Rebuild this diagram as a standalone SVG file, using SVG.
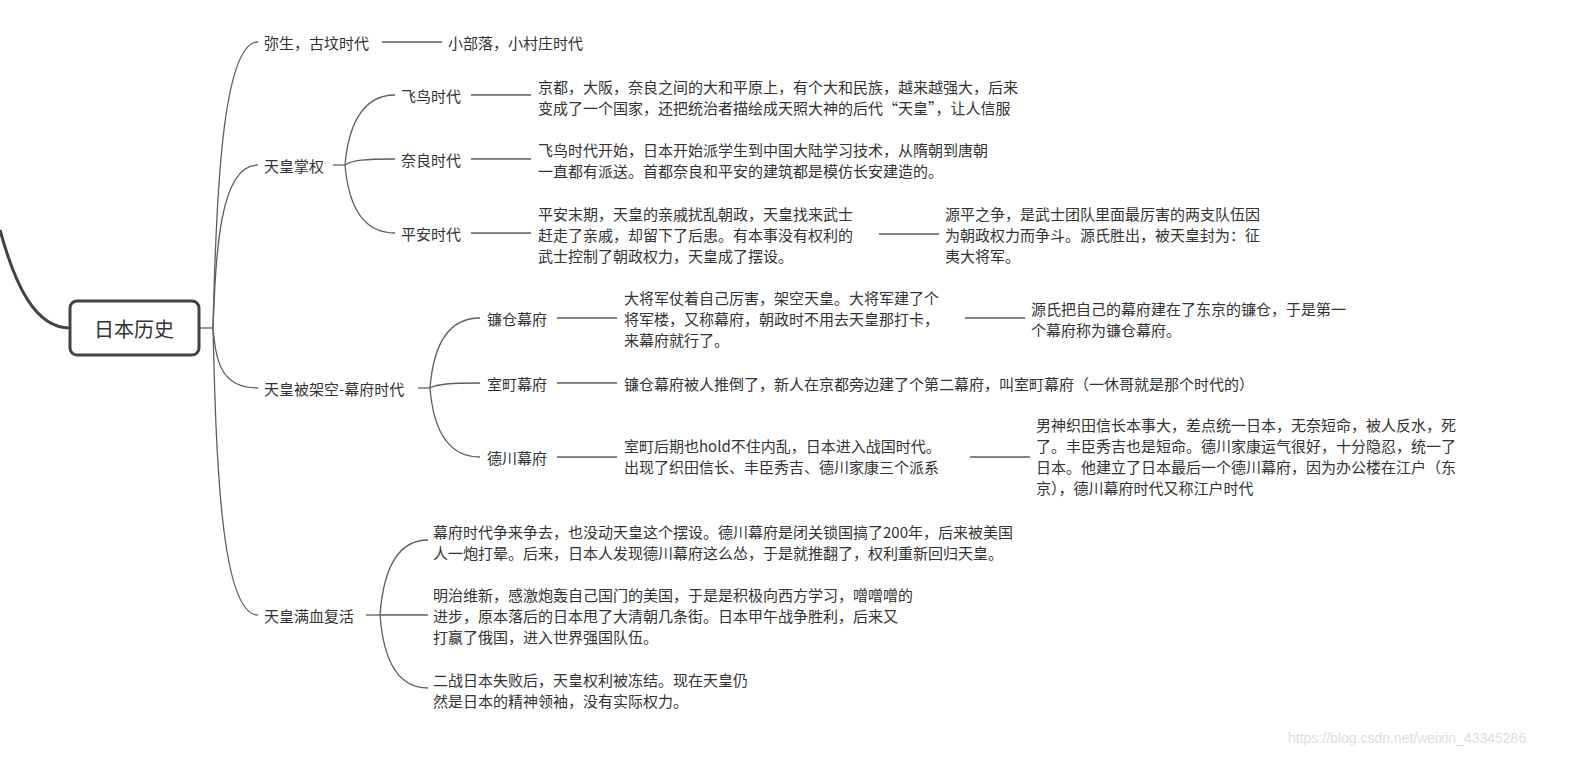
<svg xmlns="http://www.w3.org/2000/svg" width="1570" height="757" viewBox="0 0 1570 757">
<style>
text{font-family:"Noto Sans CJK SC","Noto Sans",sans-serif;font-size:15px;fill:#333;dominant-baseline:central}
.c{fill:none;stroke:#5a5f66;stroke-width:1.3}
.wm{fill:#ddd;font-size:14px;font-family:"Liberation Sans",sans-serif}
</style>
<rect width="1570" height="757" fill="#fff"/>
<g id="connectors">
<path d="M70,328 C35,328 15,285 0,230" fill="none" stroke="#3d444c" stroke-width="3"/>
<path class="c" d="M199,328 H213"/>
<path class="c" d="M213,328 C216,200 222,42 258,42"/>
<path class="c" d="M213,328 C216,250 220,165 258,165"/>
<path class="c" d="M213,328 C216,360 220,388 258,388"/>
<path class="c" d="M213,328 C216,450 220,615 258,615"/>
<path class="c" d="M382,42 H442"/>
<path class="c" d="M333,165 H345"/>
<path class="c" d="M345,165 C348,130 360,95 395,95"/>
<path class="c" d="M345,165 C352,160 365,159 395,159"/>
<path class="c" d="M345,165 C348,200 360,233 395,233"/>
<path class="c" d="M471,95 H531 M471,159 H531 M471,233 H531 M879,234 H939"/>
<path class="c" d="M418,388 H430"/>
<path class="c" d="M430,388 C433,350 445,318 480,318"/>
<path class="c" d="M430,388 C437,384 450,383 480,383"/>
<path class="c" d="M430,388 C433,425 445,457 480,457"/>
<path class="c" d="M557,318 H617 M557,383 H617 M557,457 H617 M965,318 H1025 M970,457 H1030"/>
<path class="c" d="M366,615 H380"/>
<path class="c" d="M380,615 C383,575 395,540 428,540"/>
<path class="c" d="M380,615 H428"/>
<path class="c" d="M380,615 C383,655 395,688 428,688"/>
</g>
<g id="root"><rect x="70" y="301" width="129" height="54" rx="7" fill="#fff" stroke="#3d444c" stroke-width="3"/><text x="134" y="328" text-anchor="middle" style="font-size:20px">日本历史</text></g>
<g id="n1"><text x="264" y="42">弥生，古坟时代</text></g>
<g id="n1a"><text x="448" y="42">小部落，小村庄时代</text></g>
<g id="n2"><text x="264" y="165">天皇掌权</text></g>
<g id="n2a"><text x="401" y="95">飞鸟时代</text></g>
<g id="n2a1"><text x="538" y="86">京都，大阪，奈良之间的大和平原上，有个大和民族，越来越强大，后来</text><text x="538" y="107">变成了一个国家，还把统治者描绘成天照大神的后代“天皇”，让人信服</text></g>
<g id="n2b"><text x="401" y="159">奈良时代</text></g>
<g id="n2b1"><text x="538" y="149">飞鸟时代开始，日本开始派学生到中国大陆学习技术，从隋朝到唐朝</text><text x="538" y="170">一直都有派送。首都奈良和平安的建筑都是模仿长安建造的。</text></g>
<g id="n2c"><text x="401" y="233">平安时代</text></g>
<g id="n2c1"><text x="538" y="213">平安末期，天皇的亲戚扰乱朝政，天皇找来武士</text><text x="538" y="234">赶走了亲戚，却留下了后患。有本事没有权利的</text><text x="538" y="255">武士控制了朝政权力，天皇成了摆设。</text></g>
<g id="n2c2"><text x="945" y="213">源平之争，是武士团队里面最厉害的两支队伍因</text><text x="945" y="234">为朝政权力而争斗。源氏胜出，被天皇封为：征</text><text x="945" y="255">夷大将军。</text></g>
<g id="n3"><text x="264" y="388">天皇被架空-幕府时代</text></g>
<g id="n3a"><text x="487" y="318">镰仓幕府</text></g>
<g id="n3a1"><text x="624" y="297">大将军仗着自己厉害，架空天皇。大将军建了个</text><text x="624" y="318">将军楼，又称幕府，朝政时不用去天皇那打卡，</text><text x="624" y="339">来幕府就行了。</text></g>
<g id="n3a2"><text x="1031" y="308">源氏把自己的幕府建在了东京的镰仓，于是第一</text><text x="1031" y="329">个幕府称为镰仓幕府。</text></g>
<g id="n3b"><text x="487" y="383">室町幕府</text></g>
<g id="n3b1"><text x="624" y="383">镰仓幕府被人推倒了，新人在京都旁边建了个第二幕府，叫室町幕府（一休哥就是那个时代的）</text></g>
<g id="n3c"><text x="487" y="457">德川幕府</text></g>
<g id="n3c1"><text x="624" y="445">室町后期也hold不住内乱，日本进入战国时代。</text><text x="624" y="466">出现了织田信长、丰臣秀吉、德川家康三个派系</text></g>
<g id="n3c2"><text x="1036" y="424">男神织田信长本事大，差点统一日本，无奈短命，被人反水，死</text><text x="1036" y="445">了。丰臣秀吉也是短命。德川家康运气很好，十分隐忍，统一了</text><text x="1036" y="466">日本。他建立了日本最后一个德川幕府，因为办公楼在江户（东</text><text x="1036" y="487">京），德川幕府时代又称江户时代</text></g>
<g id="n4"><text x="264" y="615">天皇满血复活</text></g>
<g id="n4a"><text x="433" y="531">幕府时代争来争去，也没动天皇这个摆设。德川幕府是闭关锁国搞了200年，后来被美国</text><text x="433" y="552">人一炮打晕。后来，日本人发现德川幕府这么怂，于是就推翻了，权利重新回归天皇。</text></g>
<g id="n4b"><text x="433" y="594">明治维新，感激炮轰自己国门的美国，于是是积极向西方学习，噌噌噌的</text><text x="433" y="615">进步，原本落后的日本甩了大清朝几条街。日本甲午战争胜利，后来又</text><text x="433" y="636">打赢了俄国，进入世界强国队伍。</text></g>
<g id="n4c"><text x="433" y="679">二战日本失败后，天皇权利被冻结。现在天皇仍</text><text x="433" y="700">然是日本的精神领袖，没有实际权力。</text></g>
<text class="wm" x="1288" y="738">https://blog.csdn.net/weixin_43345286</text>
</svg>
